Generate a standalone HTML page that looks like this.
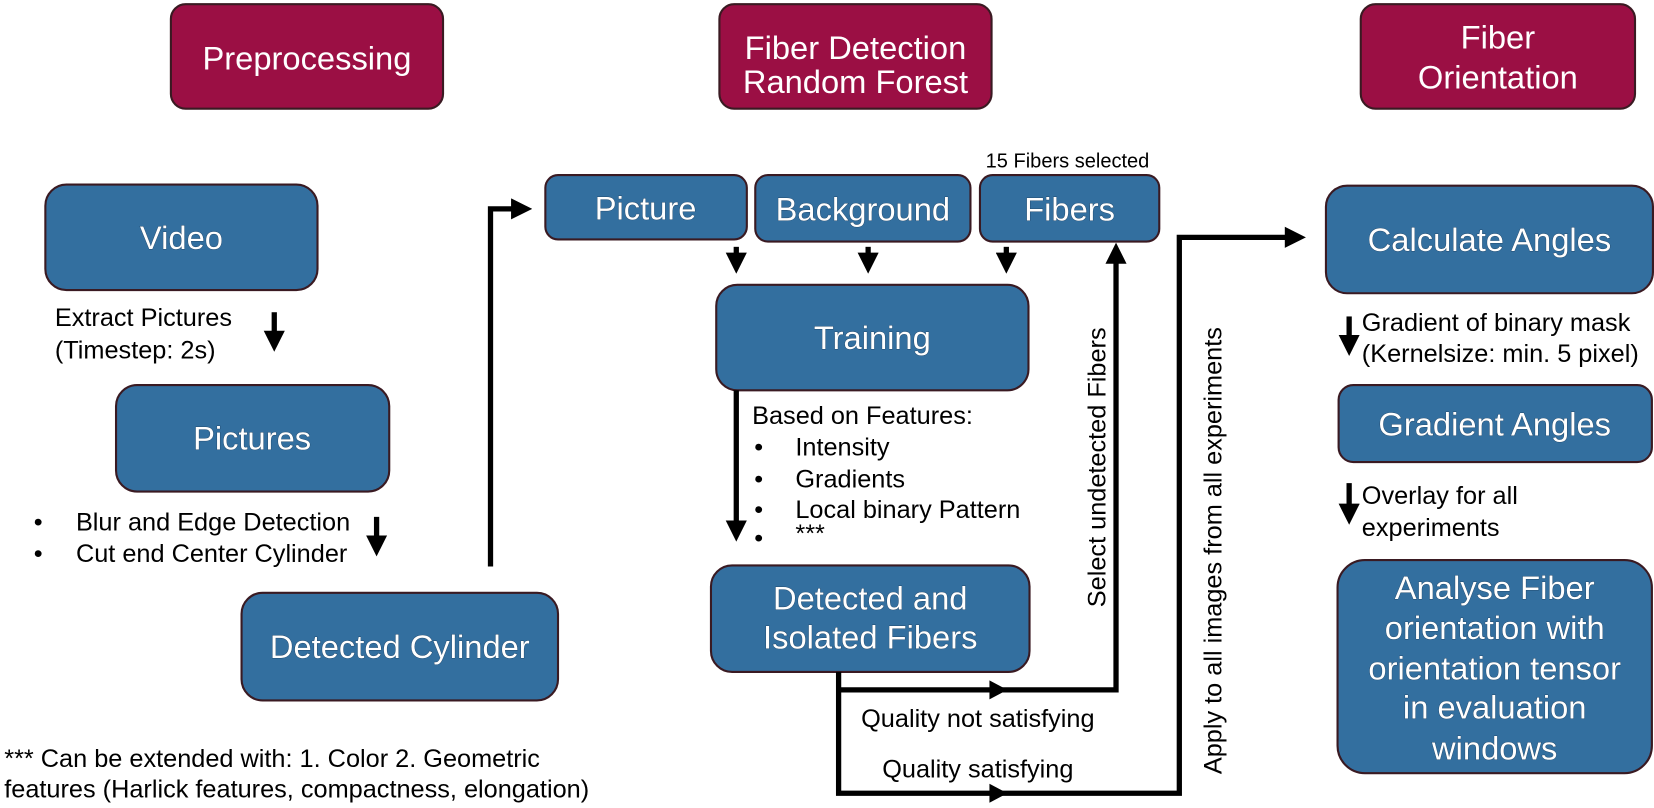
<!DOCTYPE html>
<html><head><meta charset="utf-8"><style>
html,body{margin:0;padding:0;background:#fff;}
svg{display:block;}
text{font-family:"Liberation Sans",Arial,sans-serif;}
.bx{fill:#336f9f;stroke:#3a1a22;stroke-width:2;}
.hd{fill:#9b0f44;stroke:#3a1a22;stroke-width:2;}
.bt{fill:#fff;font-size:31px;text-anchor:middle;stroke:#1d3f5f;stroke-width:0.7px;paint-order:stroke;}
.ht{fill:#fff;font-size:31px;text-anchor:middle;}
.lt{fill:#000;font-size:24px;}
.ln{stroke:#000;stroke-width:5;fill:none;}
</style></head><body>
<svg width="1654" height="808" viewBox="0 0 1568 766" preserveAspectRatio="none" xmlns="http://www.w3.org/2000/svg">
<defs>
<marker id="a" markerWidth="4" markerHeight="4" refX="2.5" refY="2" orient="auto" markerUnits="strokeWidth"><path d="M0,0 L4,2 L0,4 z" fill="#000"/></marker>
</defs>
<!-- headers -->
<rect class="hd" x="162" y="4" width="258" height="99" rx="14"/>
<text class="ht" x="291" y="66">Preprocessing</text>
<rect class="hd" x="682" y="4" width="258" height="99" rx="14"/>
<text class="ht" x="811" y="56">Fiber Detection</text>
<text class="ht" x="811" y="88">Random Forest</text>
<rect class="hd" x="1290" y="4" width="260" height="99" rx="14"/>
<text class="ht" x="1420" y="46">Fiber</text>
<text class="ht" x="1420" y="84">Orientation</text>

<!-- left column -->
<rect class="bx" x="43" y="175" width="258" height="100" rx="20"/>
<text class="bt" x="172" y="236">Video</text>
<text class="lt" x="52" y="309">Extract Pictures</text>
<text class="lt" x="52" y="340">(Timestep: 2s)</text>
<line class="ln" x1="260" y1="296" x2="260" y2="326" marker-end="url(#a)"/>
<rect class="bx" x="110" y="365" width="259" height="101" rx="20"/>
<text class="bt" x="239" y="426">Pictures</text>
<text class="lt" x="32" y="503">•</text><text class="lt" x="72" y="503">Blur and Edge Detection</text>
<text class="lt" x="32" y="533">•</text><text class="lt" x="72" y="533">Cut end Center Cylinder</text>
<line class="ln" x1="357" y1="490" x2="357" y2="520" marker-end="url(#a)"/>
<rect class="bx" x="229" y="562" width="300" height="102" rx="20"/>
<text class="bt" x="379" y="624">Detected Cylinder</text>
<polyline class="ln" points="465,537 465,198 497,198" marker-end="url(#a)"/>
<text class="lt" x="4" y="727">*** Can be extended with: 1. Color 2. Geometric</text>
<text class="lt" x="4" y="756">features (Harlick features, compactness, elongation)</text>

<!-- middle -->
<text class="lt" x="1012" y="159" style="font-size:19px;text-anchor:middle">15 Fibers selected</text>
<rect class="bx" x="517" y="166" width="191" height="61" rx="12"/>
<text class="bt" x="612" y="208">Picture</text>
<rect class="bx" x="716" y="166" width="204" height="63" rx="12"/>
<text class="bt" x="818" y="209">Background</text>
<rect class="bx" x="929" y="166" width="170" height="63" rx="12"/>
<text class="bt" x="1014" y="209">Fibers</text>
<line class="ln" x1="698" y1="234" x2="698" y2="252" marker-end="url(#a)"/>
<line class="ln" x1="823" y1="234" x2="823" y2="252" marker-end="url(#a)"/>
<line class="ln" x1="954" y1="234" x2="954" y2="252" marker-end="url(#a)"/>
<rect class="bx" x="679" y="270" width="296" height="100" rx="20"/>
<text class="bt" x="827" y="331">Training</text>
<line class="ln" x1="698" y1="370" x2="698" y2="506" marker-end="url(#a)"/>
<text class="lt" x="713" y="402">Based on Features:</text>
<text class="lt" x="715" y="432">•</text><text class="lt" x="754" y="432">Intensity</text>
<text class="lt" x="715" y="462">•</text><text class="lt" x="754" y="462">Gradients</text>
<text class="lt" x="715" y="491">•</text><text class="lt" x="754" y="491">Local binary Pattern</text>
<text class="lt" x="715" y="518">•</text><text class="lt" x="754" y="514">***</text>
<rect class="bx" x="674" y="536" width="302" height="101" rx="20"/>
<text class="bt" x="825" y="578">Detected and</text>
<text class="bt" x="825" y="615">Isolated Fibers</text>
<polyline class="ln" points="795,637 795,752 1118,752 1118,225 1220,225"/>
<path d="M1238,225 L1218,215 L1218,235 z" fill="#000"/>
<polyline class="ln" points="795,654 1058,654 1058,245"/>
<path d="M1058,230 L1048,250 L1068,250 z" fill="#000"/>
<path d="M955,654 L938,645 L938,663 z" fill="#000"/>
<path d="M955,752 L938,743 L938,761 z" fill="#000"/>
<text class="lt" x="927" y="689" style="text-anchor:middle">Quality not satisfying</text>
<text class="lt" x="927" y="737" style="text-anchor:middle">Quality satisfying</text>
<text class="lt" transform="translate(1048,443) rotate(-90)" style="text-anchor:middle">Select undetected Fibers</text>
<text class="lt" transform="translate(1158,522) rotate(-90)" style="text-anchor:middle">Apply to all images from all experiments</text>

<!-- right -->
<rect class="bx" x="1257" y="176" width="310" height="102" rx="20"/>
<text class="bt" x="1412" y="238">Calculate Angles</text>
<line class="ln" x1="1279" y1="300" x2="1279" y2="330" marker-end="url(#a)"/>
<text class="lt" x="1291" y="314">Gradient of binary mask</text>
<text class="lt" x="1291" y="343">(Kernelsize: min. 5 pixel)</text>
<rect class="bx" x="1269" y="365" width="297" height="73" rx="14"/>
<text class="bt" x="1417" y="413">Gradient Angles</text>
<line class="ln" x1="1279" y1="458" x2="1279" y2="490" marker-end="url(#a)"/>
<text class="lt" x="1291" y="478">Overlay for all</text>
<text class="lt" x="1291" y="508">experiments</text>
<rect class="bx" x="1268" y="531" width="298" height="202" rx="26"/>
<text class="bt" x="1417" y="568">Analyse Fiber</text>
<text class="bt" x="1417" y="606">orientation with</text>
<text class="bt" x="1417" y="644">orientation tensor</text>
<text class="bt" x="1417" y="681">in evaluation</text>
<text class="bt" x="1417" y="720">windows</text>
</svg>
</body></html>
